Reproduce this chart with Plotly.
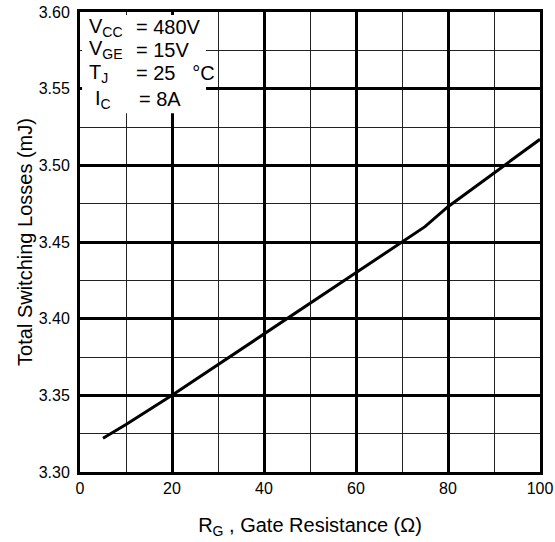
import plotly.graph_objects as go

rg = [5, 10, 20, 30, 40, 50, 60, 70, 75, 80, 90, 100]
loss = [3.322, 3.331, 3.350, 3.370, 3.390, 3.410, 3.430, 3.450, 3.460, 3.473, 3.495, 3.517]

cond_names = ["V<sub>CC</sub>", "V<sub>GE</sub>", "T<sub>J</sub>", "I<sub>C</sub>"]
cond_values = ["= 480V", "= 15V", "= 25\u00a0\u00a0\u00a0°C", "= 8A"]

FONT = "Liberation Sans, Arial, sans-serif"
PLOT_TOP, PLOT_H = 12, 460
PLOT_L, PLOT_W = 80, 460

fig = go.Figure()
fig.add_trace(go.Scatter(x=rg, y=loss, mode="lines",
                         line=dict(color="black", width=3), showlegend=False,
                         hoverinfo="skip"))

fig.add_shape(type="rect", xref="x", yref="y", x0=0.45, x1=27.4, y0=3.534, y1=3.598,
              fillcolor="white", line=dict(width=0), layer="between")

ys = [27, 50, 73, 99]
name_x = [87, 87, 87, 93]
val_x = [134, 134, 134, 137]
for nm, vl, yp, nx, vx in zip(cond_names, cond_values, ys, name_x, val_x):
    for txt, px in ((nm, nx), (vl, vx)):
        fig.add_annotation(text=txt, xref="paper", yref="paper",
                           x=(px - PLOT_L) / PLOT_W, y=1 - (yp - PLOT_TOP) / PLOT_H,
                           xanchor="left", yanchor="middle", showarrow=False,
                           font=dict(size=20, color="black", family=FONT))

axis_common = dict(showline=True, linecolor="black", linewidth=3, mirror=True,
                   gridcolor="black", gridwidth=3, ticks="", zeroline=False,
                   automargin=False,
                   tickfont=dict(size=16, color="black", family=FONT))

fig.update_xaxes(range=[0, 100], dtick=20, tick0=0,
                 minor=dict(dtick=10, showgrid=True, gridcolor="#222", gridwidth=1),
                 title=dict(text="R<sub>G</sub> , Gate Resistance (Ω)", standoff=22,
                            font=dict(size=20, color="black", family=FONT)),
                 **axis_common)
fig.update_yaxes(range=[3.30, 3.60], dtick=0.05, tick0=3.30, tickformat=".2f",
                 ticklabelstandoff=4,
                 minor=dict(dtick=0.025, showgrid=True, gridcolor="#222", gridwidth=1),
                 title=dict(text="Total Switching Losses (mJ)", standoff=1,
                            font=dict(size=20, color="black", family=FONT)),
                 **axis_common)

fig.update_layout(width=555, height=542, margin=dict(l=80, r=15, t=12, b=70),
                  plot_bgcolor="white", paper_bgcolor="white",
                  font=dict(family=FONT, color="black"))

fig.write_html("out.html")
